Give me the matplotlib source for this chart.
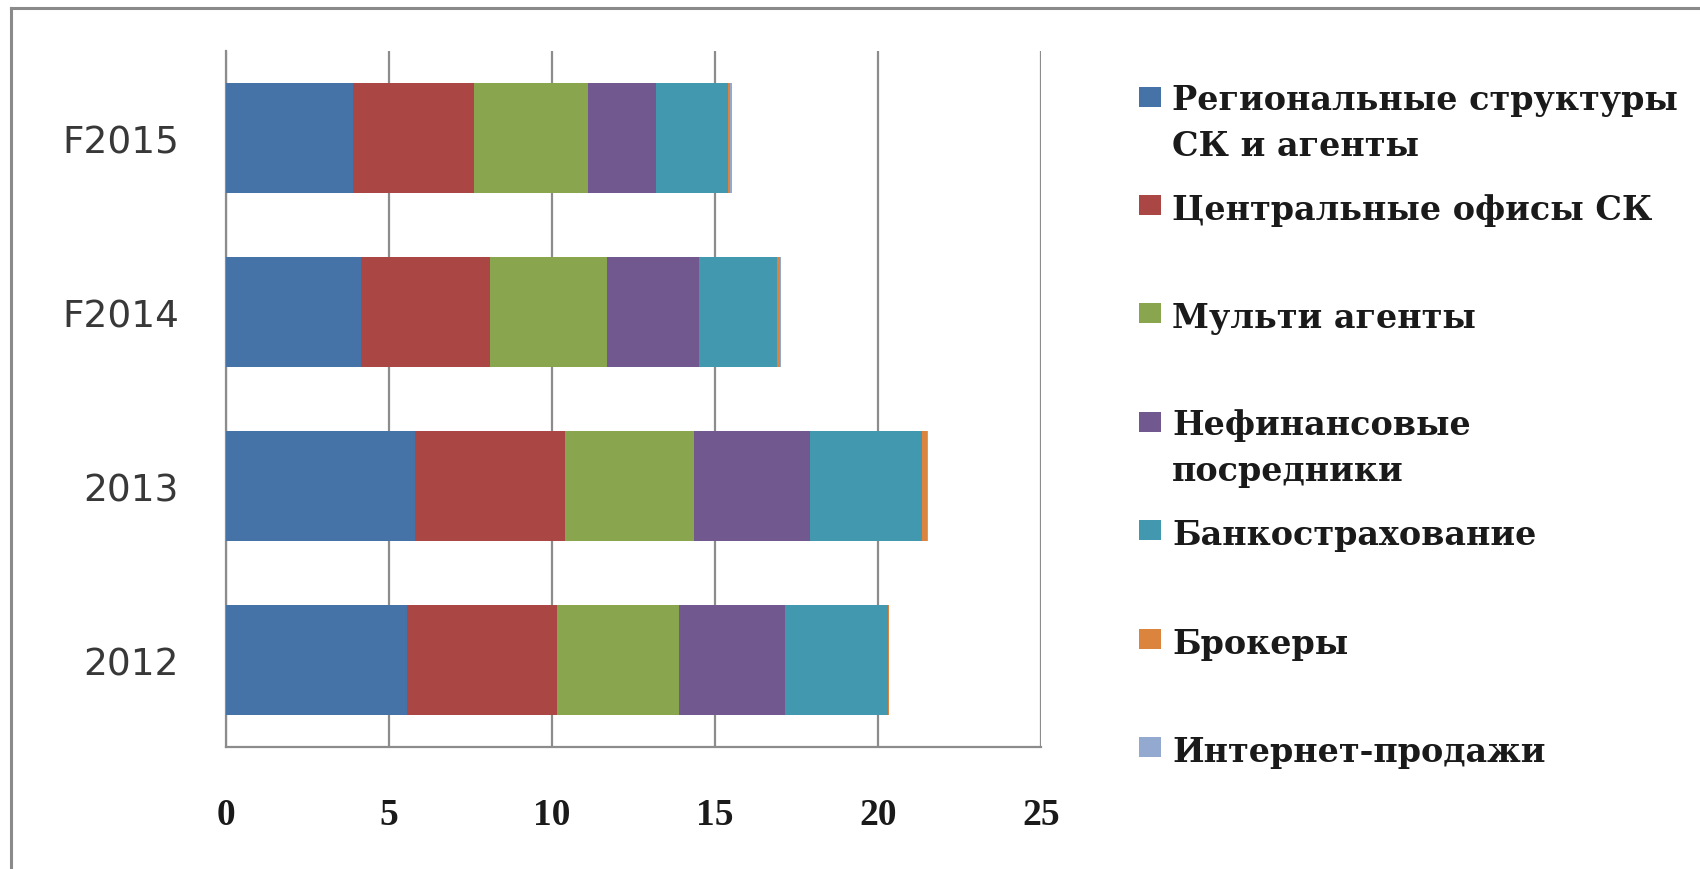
import matplotlib
matplotlib.use("Agg")
import matplotlib.pyplot as plt
from matplotlib.patches import Rectangle
from matplotlib.lines import Line2D
import numpy as np

# ---- data ----
categories = ["2012", "2013", "F2014", "F2015"]
series_names = [
    "Региональные структуры\nСК и агенты",
    "Центральные офисы СК",
    "Мульти агенты",
    "Нефинансовые\nпосредники",
    "Банкострахование",
    "Брокеры",
    "Интернет-продажи",
]
regional = [5.55, 5.80, 4.15, 3.90]
central = [4.60, 4.60, 3.95, 3.70]
multi = [3.75, 3.95, 3.60, 3.50]
nonfin = [3.25, 3.55, 2.80, 2.10]
bank = [3.15, 3.45, 2.40, 2.20]
brokers = [0.03, 0.15, 0.10, 0.07]
internet = [0.01, 0.02, 0.02, 0.04]
xticks = [0, 5, 10, 15, 20, 25]

series = [regional, central, multi, nonfin, bank, brokers, internet]
colors = ["#4572A7", "#AA4643", "#89A54E", "#71588F", "#4198AF", "#DB843D", "#93A9CF"]

W, H = 1700, 870
fig = plt.figure(figsize=(W / 100, H / 100), dpi=100)
fig.patch.set_facecolor("white")

# outer frame (cropped at right & bottom)
fig.add_artist(Line2D([11 / W, 11 / W], [0, 1 - 9 / H], color="#8a8a8a", lw=2.2))
fig.add_artist(Line2D([11 / W, 1], [1 - 9 / H, 1 - 9 / H], color="#8a8a8a", lw=2.2))

ax_l, ax_r, ax_t, ax_b = 226, 1041, 52, 748
ax = fig.add_axes([ax_l / W, 1 - ax_b / H, (ax_r - ax_l) / W, (ax_b - ax_t) / H])

y = np.arange(len(categories))
left = np.zeros(len(categories))
for vals, col in zip(series, colors):
    ax.barh(y, vals, left=left, height=0.636, color=col, zorder=3)
    left += np.array(vals)

ax.set_xlim(0, 25)
ax.set_ylim(-0.5, 3.5)
ax.set_xticks(xticks)
ax.set_xticklabels([str(t) for t in xticks], family="Liberation Serif",
                   fontweight="bold", fontsize=27, color="#1a1a1a")
ax.set_yticks(y)
ax.set_yticklabels(categories, family="DejaVu Sans", fontsize=27, color="#383838")
ax.tick_params(axis="x", length=0, pad=36)
ax.tick_params(axis="y", length=0, pad=34)
ax.grid(axis="x", color="#8c8c8c", lw=1.6, zorder=0)
ax.set_axisbelow(True)
for s in ["top", "right"]:
    ax.spines[s].set_visible(False)
for s in ["left", "bottom"]:
    ax.spines[s].set_color("#8c8c8c")
    ax.spines[s].set_linewidth(1.6)

# ---- legend (manual) ----
leg_y = [97.6, 206, 314, 423, 531, 640, 748]
line_gap = 44
for name, col, yc in zip(series_names, colors, leg_y):
    fig.add_artist(Rectangle((1139 / W, 1 - (yc + 10) / H), 22 / W, 20 / H,
                             facecolor=col, edgecolor="none",
                             transform=fig.transFigure))
    nlines = name.count("\n") + 1
    base = yc + 14 + (nlines - 1) * line_gap  # baseline of last line
    fig.text(1172 / W, 1 - base / H, name, family="DejaVu Serif",
             fontweight="bold", fontsize=24, color="#1a1a1a",
             va="baseline", ha="left", linespacing=1.5)

fig.savefig("out.png", dpi=100, facecolor="white")
